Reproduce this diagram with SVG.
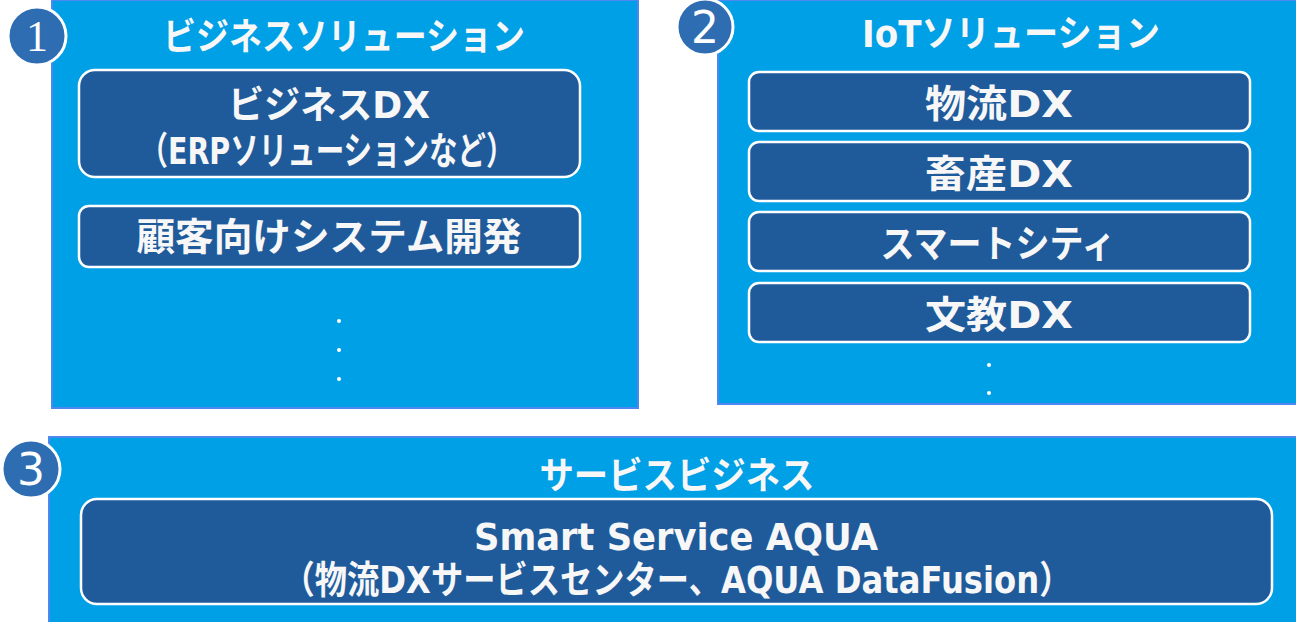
<svg xmlns="http://www.w3.org/2000/svg" width="1296" height="622" viewBox="0 0 1296 622">
<style>
.panel{fill:#00A0E6;stroke:#4F86F0;stroke-width:2}
.box{fill:#1F5B9B;stroke:#FFFFFF;stroke-width:2.5}
.badge{fill:#2E6DB1;stroke:#FFFFFF;stroke-width:3}
.num{fill:#FFFFFF;font-family:"DejaVu Sans","Liberation Sans",sans-serif;font-size:44px;text-anchor:middle}
.serif{font-family:"Liberation Serif",serif}
.t{fill:#F7F7F7;font-family:"DejaVu Sans","Noto Sans CJK JP",sans-serif;font-weight:bold;text-anchor:middle}
.title{font-size:37px}
.lbl{font-size:38px}
.dot{fill:#FFFFFF}
</style>
<rect width="1296" height="622" fill="#FFFFFF"/>
<g id="panel1">
<rect class="panel" x="52" y="0" width="586" height="408"/>
<text class="t title" x="344" y="50" textLength="362" lengthAdjust="spacingAndGlyphs">ビジネスソリューション</text>
</g>
<g id="panel2">
<rect class="panel" x="718" y="0" width="580" height="404"/>
<text class="t title" x="1011" y="47" textLength="298" lengthAdjust="spacingAndGlyphs">IoTソリューション</text>
</g>
<g id="panel3">
<rect class="panel" x="49" y="437" width="1249" height="187"/>
<text class="t title" x="677" y="489" textLength="275" lengthAdjust="spacingAndGlyphs">サービスビジネス</text>
</g>
<g id="badge1"><circle class="badge" cx="37" cy="36" r="29"/><text class="num serif" x="37" y="51">1</text></g>
<g id="badge2"><circle class="badge" cx="705" cy="27" r="28"/><text class="num" x="705" y="43">2</text></g>
<g id="badge3"><circle class="badge" cx="31" cy="469" r="29"/><text class="num" x="31" y="485">3</text></g>
<g id="bizdx">
<rect class="box" x="79" y="70" width="501" height="107" rx="16"/>
<text class="t lbl" x="329" y="118" textLength="202" lengthAdjust="spacingAndGlyphs">ビジネスDX</text>
<text class="t lbl" x="327" y="164" font-size="33" textLength="375" lengthAdjust="spacingAndGlyphs">（ERPソリューションなど）</text>
</g>
<g id="custom">
<rect class="box" x="79" y="206" width="501" height="61" rx="10"/>
<text class="t lbl" x="329" y="250" textLength="385" lengthAdjust="spacingAndGlyphs">顧客向けシステム開発</text>
</g>
<g id="dots1"><circle class="dot" cx="339" cy="321" r="2"/><circle class="dot" cx="339" cy="350" r="2"/><circle class="dot" cx="339" cy="379" r="2"/></g>
<g id="logistics"><rect class="box" x="749" y="72" width="501" height="59" rx="10"/><text class="t lbl" x="999" y="117" textLength="148" lengthAdjust="spacingAndGlyphs">物流DX</text></g>
<g id="livestock"><rect class="box" x="749" y="142" width="501" height="59" rx="10"/><text class="t lbl" x="999" y="187" textLength="148" lengthAdjust="spacingAndGlyphs">畜産DX</text></g>
<g id="smartcity"><rect class="box" x="749" y="212" width="501" height="59" rx="10"/><text class="t lbl" x="998" y="257" textLength="235" lengthAdjust="spacingAndGlyphs">スマートシティ</text></g>
<g id="education"><rect class="box" x="749" y="283" width="501" height="59" rx="10"/><text class="t lbl" x="999" y="328" textLength="148" lengthAdjust="spacingAndGlyphs">文教DX</text></g>
<g id="dots2"><circle class="dot" cx="989" cy="365" r="2"/><circle class="dot" cx="989" cy="393" r="2"/></g>
<g id="aqua">
<rect class="box" x="81" y="499" width="1191" height="105" rx="16"/>
<text class="t lbl" x="676" y="550" font-size="37" textLength="404" lengthAdjust="spacingAndGlyphs">Smart Service AQUA</text>
<text class="t lbl" x="677" y="593" font-size="33" textLength="789" lengthAdjust="spacingAndGlyphs">（物流DXサービスセンター、AQUA DataFusion）</text>
</g>
<g id="connectors"/>
</svg>
